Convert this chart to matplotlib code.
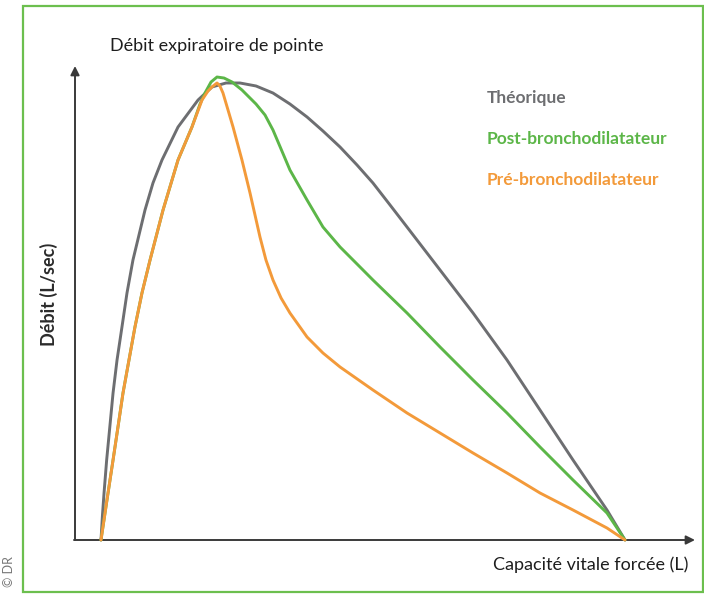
import matplotlib.pyplot as plt
from matplotlib.patches import Rectangle

plt.rcParams['font.family'] = ['Lato', 'DejaVu Sans']

# courbes débit-volume (volume en L, débit en L/s)
volume_theorique = [0, 0.014, 0.029, 0.054, 0.115, 0.153, 0.200, 0.248, 0.305, 0.420, 0.496,
                    0.582, 0.735, 0.926, 1.059, 1.193, 1.326, 1.479, 1.641, 1.803, 1.966,
                    2.118, 2.281, 2.443, 2.595, 2.758, 2.920, 3.235, 3.550, 3.874, 4.189,
                    4.504, 4.828, 5.0]
debit_theorique = [0, 0.543, 1.022, 1.739, 3.196, 3.913, 4.630, 5.370, 6.087, 7.174, 7.761,
                   8.261, 8.978, 9.565, 9.848, 9.935, 9.935, 9.870, 9.717, 9.478, 9.196,
                   8.891, 8.543, 8.152, 7.761, 7.283, 6.804, 5.870, 4.935, 3.913, 2.826,
                   1.739, 0.652, 0]

volume_post = [0, 0.057, 0.115, 0.162, 0.210, 0.324, 0.391, 0.468, 0.592, 0.735, 0.868,
               0.945, 0.992, 1.050, 1.107, 1.174, 1.250, 1.345, 1.479, 1.565, 1.641,
               1.718, 1.803, 1.966, 2.118, 2.281, 2.443, 2.595, 2.920, 3.235, 3.550,
               3.874, 4.189, 4.504, 4.828, 5.0]
debit_post = [0, 0.870, 1.739, 2.457, 3.196, 4.630, 5.370, 6.087, 7.174, 8.261, 8.978,
              9.478, 9.717, 9.957, 10.065, 10.043, 9.957, 9.783, 9.478, 9.239, 8.913,
              8.500, 8.043, 7.391, 6.804, 6.370, 6.000, 5.652, 4.935, 4.196, 3.478,
              2.761, 2.022, 1.304, 0.587, 0]

volume_pre = [0, 0.057, 0.115, 0.162, 0.210, 0.324, 0.391, 0.468, 0.592, 0.735, 0.868,
              0.964, 1.021, 1.059, 1.107, 1.135, 1.164, 1.212, 1.260, 1.345, 1.422,
              1.517, 1.574, 1.641, 1.718, 1.803, 1.966, 2.118, 2.281, 2.595, 2.920,
              3.235, 3.550, 3.874, 4.189, 4.504, 4.828, 5.0]
debit_pre = [0, 0.870, 1.739, 2.457, 3.196, 4.630, 5.370, 6.087, 7.174, 8.261, 8.978,
             9.565, 9.761, 9.848, 9.935, 9.870, 9.717, 9.348, 8.978, 8.261, 7.543,
             6.587, 6.087, 5.652, 5.261, 4.935, 4.413, 4.065, 3.761, 3.261, 2.761,
             2.326, 1.891, 1.457, 1.022, 0.652, 0.261, 0]

legende = ["Théorique", "Post-bronchodilatateur", "Pré-bronchodilatateur"]
couleurs = ["#6d6e71", "#5cb648", "#f39a3a"]

W, H = 704, 594
fig = plt.figure(figsize=(W / 100, H / 100), dpi=100)
ax = fig.add_axes([0, 0, 1, 1])

# échelle : 1 L = 104.8 px, 1 L/s = 46 px, origine des courbes au pixel (101, 540)
px_l, px_ls = 104.8, 46.0
x0, y0 = 101, 540
ax.set_xlim(-x0 / px_l, (W - x0) / px_l)
ax.set_ylim(-(H - y0) / px_ls, y0 / px_ls)
ax.axis('off')


def pos(x, y):
    """pixel -> coordonnées des données"""
    return (x - x0) / px_l, (y0 - y) / px_ls


def fpos(x, y):
    """pixel -> coordonnées de la figure"""
    return x / W, 1 - y / H


# axes avec flèches
fleche = dict(arrowstyle='-|>', color='#3a3a3a', lw=1.4, mutation_scale=13,
              shrinkA=0, shrinkB=0)
ax.annotate('', xy=pos(75, 66), xytext=pos(75, 540), arrowprops=fleche)
ax.annotate('', xy=pos(695, 540), xytext=pos(74, 540), arrowprops=fleche)

style = dict(lw=2.1, solid_joinstyle='round', solid_capstyle='round')
ax.plot(volume_theorique, debit_theorique, color=couleurs[0], zorder=3, **style)
ax.plot(volume_post, debit_post, color=couleurs[1], zorder=4, **style)
ax.plot(volume_pre, debit_pre, color=couleurs[2], zorder=5, **style)

# textes
fig.text(*fpos(110, 46), "Débit expiratoire de pointe", fontsize=13,
         color='#1e1e1e', ha='left', va='center')
fig.text(*fpos(49, 294), "Débit (L/sec)", fontsize=13, fontweight='bold',
         color='#2b2b2b', rotation=90, ha='center', va='center')
fig.text(*fpos(688, 565), "Capacité vitale forcée (L)", fontsize=13,
         color='#1e1e1e', ha='right', va='center')
for i, (txt, c) in enumerate(zip(legende, couleurs)):
    fig.text(*fpos(487, 98 + i * 41), txt, fontsize=12.5, fontweight='bold',
             color=c, ha='left', va='center')
fig.text(*fpos(9, 572), "© DR", fontsize=9, color='#777777', rotation=90,
         ha='center', va='center')

# cadre vert
fig.patches.append(Rectangle(fpos(23, 592), (703 - 23) / W, (592 - 6) / H,
                             transform=fig.transFigure, fill=False,
                             ec='#6cbf4e', lw=1.6))

fig.savefig('out.png', dpi=100)
